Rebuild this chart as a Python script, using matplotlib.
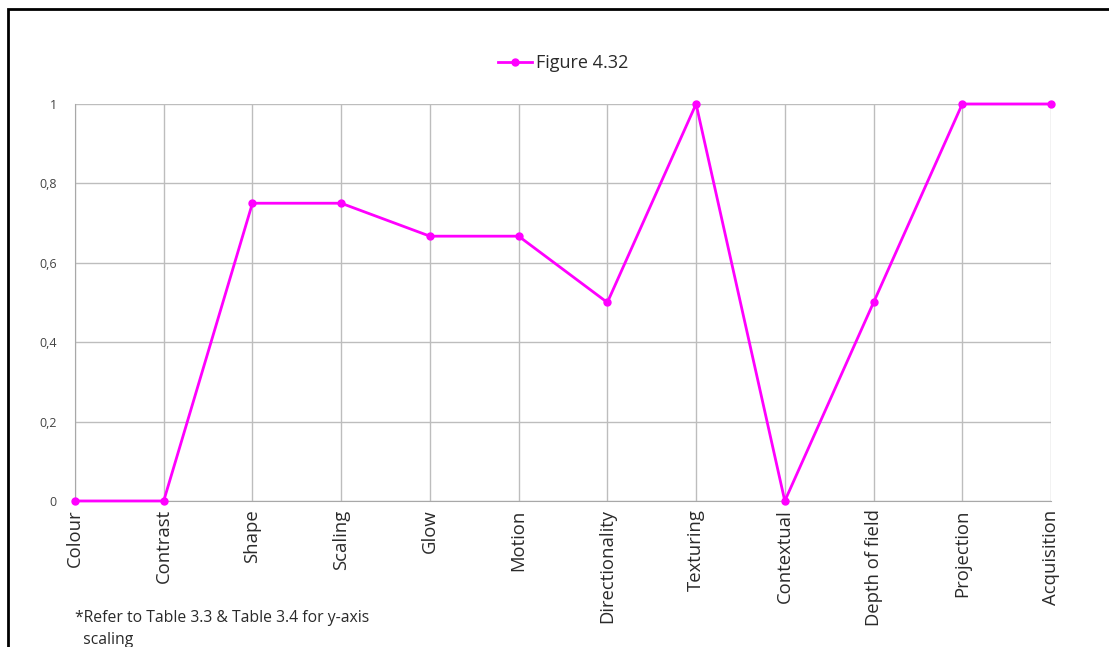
import matplotlib
matplotlib.use("Agg")
import matplotlib.pyplot as plt
from matplotlib.patches import Rectangle
from matplotlib.ticker import FuncFormatter

categories = ["Colour", "Contrast", "Shape", "Scaling", "Glow", "Motion",
              "Directionality", "Texturing", "Contextual", "Depth of field",
              "Projection", "Acquisition"]
values = [0, 0, 0.75, 0.75, 0.667, 0.667, 0.5, 1, 0, 0.5, 1, 1]
series_name = "Figure 4.32"
y_ticks = [0, 0.2, 0.4, 0.6, 0.8, 1]
note = "*Refer to Table 3.3 & Table 3.4 for y-axis\n  scaling"

plt.rcParams["font.family"] = ["Open Sans", "DejaVu Sans"]

fig = plt.figure(figsize=(11.09, 6.47), dpi=100)
ax = fig.add_axes([0.0676, 0.2257, 0.9477 - 0.0676, 0.8393 - 0.2257])

x = list(range(len(categories)))
ax.plot(x, values, color="#ff00ff", lw=2, marker="o", ms=5,
        label=series_name, clip_on=False, zorder=3)

ax.set_xlim(x[0], x[-1])
ax.set_ylim(0, 1)
ax.set_xticks(x)
ax.set_xticklabels(categories, rotation=90, fontsize=13.3, color="#2a2a2a")
ax.set_yticks(y_ticks)
ax.yaxis.set_major_formatter(FuncFormatter(
    lambda v, p: "0" if v == 0 else ("1" if v == 1 else f"{v:.1f}".replace(".", ","))))
ax.tick_params(axis="y", labelsize=9, colors="#444444", length=0, pad=13)
ax.tick_params(axis="x", length=0, pad=6)
ax.grid(True, color="#bdbdbd", lw=1)
ax.set_axisbelow(True)
for side in ["top", "right"]:
    ax.spines[side].set_visible(False)
for side in ["left", "bottom"]:
    ax.spines[side].set_color("#a8a8a8")

ax.legend(loc="center", bbox_to_anchor=(0.5, 1.103), frameon=False,
          fontsize=13, handlelength=1.9, handletextpad=0.2,
          labelcolor="#2a2a2a")

fig.text(0.0676, 1 - 610 / 647, note, fontsize=11.3, color="#2a2a2a",
         va="top", linespacing=1.5)

# outer frame along the top and left edges
fig.patches.append(Rectangle((8 / 1109, -0.1), 1.2, 1 - 9 / 647 + 0.1,
                             transform=fig.transFigure, fill=False,
                             edgecolor="black", lw=2))

fig.savefig("out.png", dpi=100)
